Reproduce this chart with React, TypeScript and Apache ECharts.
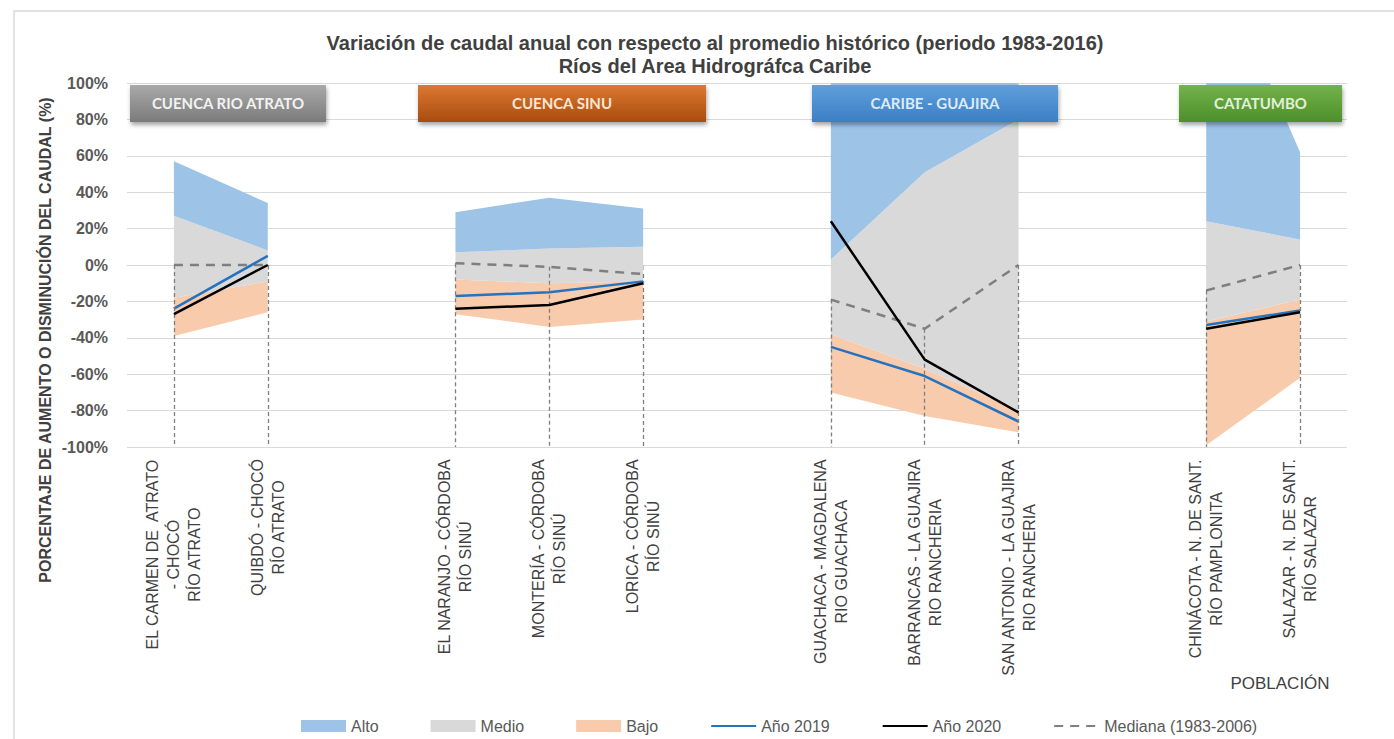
import React, { useEffect, useRef } from "react";
import * as echarts from "echarts";

// Stations along the x axis (blank entries separate the basins)
const categories: string[] = [
  "EL CARMEN DE  ATRATO\n- CHOCÓ\nRÍO ATRATO",
  "QUIBDÓ - CHOCÓ\nRÍO ATRATO",
  "",
  "EL NARANJO - CÓRDOBA\nRÍO SINÚ",
  "MONTERÍA - CÓRDOBA\nRÍO SINÚ",
  "LORICA - CÓRDOBA\nRÍO SINÚ",
  " ",
  "GUACHACA - MAGDALENA\nRIO GUACHACA",
  "BARRANCAS - LA GUAJIRA\nRIO RANCHERIA",
  "SAN ANTONIO - LA GUAJIRA\nRIO RANCHERIA",
  "  ",
  "CHINÁCOTA - N. DE SANT.\nRÍO PAMPLONITA",
  "SALAZAR - N. DE SANT.\nRÍO SALAZAR",
];

// Band limits (% variation): bottom of "Bajo", Bajo/Medio, Medio/Alto, top of "Alto"
const bajoMin: (number | null)[] = [-39, -26, null, -27, -34, -30, null, -70, -83, -92, null, -99, -62];
const bajoMax: (number | null)[] = [-18, -9, null, -8, -10, -9, null, -38, -57, -80, null, -31, -19];
const medioMax: (number | null)[] = [27, 8, null, 7, 9, 10, null, 3, 51, 80, null, 24, 14];
const altoMax: (number | null)[] = [57, 34, null, 29, 37, 31, null, 130, 140, 150, null, 180, 62];

// Yearly variation and historical median
const anio2019: (number | null)[] = [-24, 5, null, -17, -15, -9, null, -45, -61, -86, null, -33, -25];
const anio2020: (number | null)[] = [-27, 0, null, -24, -22, -10, null, 24, -52, -81, null, -35, -26];
const mediana: (number | null)[] = [0, 0, null, 1, -1, -5, null, -19, -35, 0, null, -14, 0];

const yTicks = { min: -100, max: 100, interval: 20 };

// Basin header boxes
const basins = [
  { name: "CUENCA RIO ATRATO", x: 130, w: 196, c1: "#a9a9a9", c2: "#7b7b7b", text: "#f2f2f2" },
  { name: "CUENCA SINU", x: 418, w: 288, c1: "#dc7832", c2: "#a94c0e", text: "#fbe5d6" },
  { name: "CARIBE - GUAJIRA", x: 812, w: 246, c1: "#5f9fdc", c2: "#3b7fc4", text: "#deebf7" },
  { name: "CATATUMBO", x: 1179, w: 163, c1: "#74b24a", c2: "#4d8f2b", text: "#e2f0d9" },
];

const diff = (a: (number | null)[], b: (number | null)[]) =>
  a.map((v, i) => (v == null || b[i] == null ? null : (v as number) - (b[i] as number)));

const NARROW = "'Liberation Sans Narrow', 'Arial Narrow', 'Liberation Sans', Arial, sans-serif";
const SANS = "'Liberation Sans', Arial, sans-serif";

const hiddenSymbol = { color: "rgba(0,0,0,0)", borderWidth: 0, opacity: 0 };

export default function App() {
  const ref = useRef<HTMLDivElement>(null);

  useEffect(() => {
    if (!ref.current) return;
    const chart = echarts.init(ref.current, undefined, { renderer: "svg" });

    const bandBase = {
      type: "line",
      stack: "bandas",
      stackStrategy: "all",
      symbol: "none",
      showSymbol: false,
      connectNulls: false,
      lineStyle: { width: 0, opacity: 0 },
      z: 1,
    };

    const dropLines = mediana
      .map((v, i) => (v == null ? null : [{ coord: [i, v] }, { coord: [i, yTicks.min] }]))
      .filter((d) => d !== null);

    const option: any = {
      animation: false,
      backgroundColor: "#ffffff",
      title: {
        text: "Variación de caudal anual con respecto al promedio histórico (periodo 1983-2016)\nRíos del Area Hidrográfca Caribe",
        left: 710,
        top: 26,
        textAlign: "center",
        textStyle: {
          fontFamily: NARROW,
          fontSize: 20,
          fontWeight: "bold",
          color: "#404040",
          lineHeight: 23,
        },
      },
      grid: { left: 127, right: 47, top: 83, bottom: 292, containLabel: false },
      legend: {
        left: 296,
        top: 713,
        itemWidth: 45,
        itemHeight: 12,
        itemGap: 52,
        textStyle: { fontFamily: NARROW, fontSize: 16, color: "#595959" },
        data: [
          { name: "Alto", icon: "rect" },
          { name: "Medio", icon: "rect" },
          { name: "Bajo", icon: "rect" },
          { name: "Año 2019", itemStyle: hiddenSymbol },
          { name: "Año 2020", itemStyle: hiddenSymbol },
          { name: "Mediana (1983-2006)", itemStyle: hiddenSymbol },
        ],
      },
      xAxis: {
        type: "category",
        data: categories,
        boundaryGap: true,
        axisLine: { show: true, lineStyle: { color: "#d9d9d9", width: 1 } },
        axisTick: {
          show: true,
          alignWithLabel: true,
          length: 5,
          lineStyle: { color: "#bfbfbf" },
          interval: (idx: number, val: string) => val.trim() !== "",
        },
        axisLabel: {
          rotate: 90,
          interval: 0,
          margin: 12,
          color: "#404040",
          fontFamily: SANS,
          fontSize: 16,
          formatter: (v: string) =>
            v
              .split("\n")
              .map((l) => `{c|${l}}`)
              .join("\n"),
          rich: {
            c: {
              align: "center",
              fontFamily: SANS,
              fontSize: 16,
              color: "#404040",
              lineHeight: 21,
            },
          },
        },
        splitLine: { show: false },
      },
      yAxis: {
        type: "value",
        min: yTicks.min,
        max: yTicks.max,
        interval: yTicks.interval,
        axisLine: { show: false },
        axisTick: { show: false },
        axisLabel: {
          margin: 19,
          formatter: "{value}%",
          fontFamily: NARROW,
          fontSize: 16,
          fontWeight: "bold",
          color: "#595959",
        },
        splitLine: { lineStyle: { color: "#d9d9d9", width: 1 } },
      },
      series: [
        { ...bandBase, name: "base", data: bajoMin, silent: true },
        {
          ...bandBase,
          name: "Bajo",
          data: diff(bajoMax, bajoMin),
          areaStyle: { color: "#f8cbad", opacity: 1 },
          itemStyle: { color: "#f8cbad" },
        },
        {
          ...bandBase,
          name: "Medio",
          data: diff(medioMax, bajoMax),
          areaStyle: { color: "#d9d9d9", opacity: 1 },
          itemStyle: { color: "#d9d9d9" },
        },
        {
          ...bandBase,
          name: "Alto",
          data: diff(altoMax, medioMax),
          areaStyle: { color: "#9dc3e6", opacity: 1 },
          itemStyle: { color: "#9dc3e6" },
        },
        {
          type: "line",
          name: "Mediana (1983-2006)",
          data: mediana,
          symbol: "none",
          showSymbol: false,
          z: 3,
          itemStyle: { color: "#7f7f7f" },
          lineStyle: { color: "#7f7f7f", width: 2.5, type: [9, 7] },
          markLine: {
            silent: true,
            symbol: ["none", "none"],
            label: { show: false },
            lineStyle: { color: "#7f7f7f", width: 1.3, type: [4, 3] },
            data: dropLines,
          },
        },
        {
          type: "line",
          name: "Año 2019",
          data: anio2019,
          symbol: "none",
          showSymbol: false,
          z: 4,
          itemStyle: { color: "#2572bf" },
          lineStyle: { color: "#2572bf", width: 2.5 },
        },
        {
          type: "line",
          name: "Año 2020",
          data: anio2020,
          symbol: "none",
          showSymbol: false,
          z: 5,
          itemStyle: { color: "#000000" },
          lineStyle: { color: "#000000", width: 2.5 },
        },
      ],
      graphic: [
        // chart frame
        {
          type: "polyline",
          silent: true,
          shape: { points: [[14, 739], [14, 11], [1394, 11]] },
          style: { stroke: "#d9d9d9", lineWidth: 1.5, fill: null },
        },
        // y axis title
        {
          type: "text",
          x: 45,
          y: 340,
          rotation: Math.PI / 2,
          style: {
            text: "PORCENTAJE DE AUMENTO O DISMINUCIÓN DEL CAUDAL (%)",
            font: `bold 16px ${NARROW}`,
            fill: "#404040",
            align: "center",
            verticalAlign: "middle",
          },
        },
        // x axis title
        {
          type: "text",
          x: 1280,
          y: 683,
          style: {
            text: "POBLACIÓN",
            font: `17px ${NARROW}`,
            fill: "#404040",
            align: "center",
            verticalAlign: "middle",
          },
        },
        ...basins.flatMap((b) => [
          {
            type: "rect",
            z: 100,
            zlevel: 1,
            shape: { x: b.x, y: 85, width: b.w, height: 37 },
            style: {
              fill: new echarts.graphic.LinearGradient(0, 0, 0, 1, [
                { offset: 0, color: b.c1 },
                { offset: 1, color: b.c2 },
              ]),
              shadowBlur: 4,
              shadowOffsetY: 3,
              shadowOffsetX: 1,
              shadowColor: "rgba(0,0,0,0.35)",
            },
          },
          {
            type: "text",
            z: 101,
            zlevel: 1,
            x: b.x + b.w / 2,
            y: 103,
            style: {
              text: b.name,
              font: `bold 15px Lato, 'Open Sans', sans-serif`,
              fill: b.text,
              align: "center",
              verticalAlign: "middle",
            },
          },
        ]),
      ],
    };

    chart.setOption(option);
    return () => chart.dispose();
  }, []);

  return (
    <div
      ref={ref}
      style={{ position: "fixed", left: 0, top: 0, width: 1394, height: 739, background: "#fff" }}
    />
  );
}
